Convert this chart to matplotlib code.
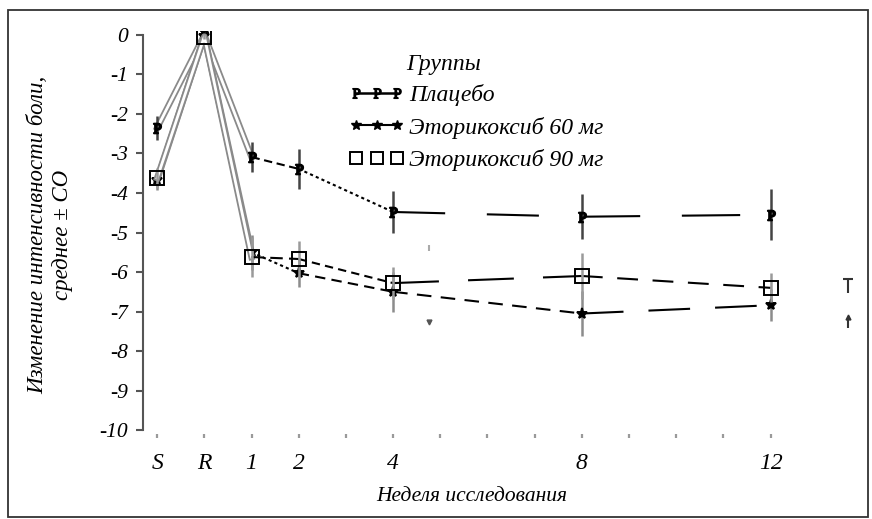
import matplotlib
matplotlib.use("Agg")
import matplotlib.pyplot as plt
from matplotlib.lines import Line2D
from matplotlib.patches import Rectangle
import matplotlib.patheffects as pe

plt.rcParams['font.family'] = ['Liberation Serif', 'DejaVu Serif']
plt.rcParams['font.style'] = 'italic'
plt.rcParams['mathtext.fontset'] = 'custom'
plt.rcParams['mathtext.it'] = 'Liberation Serif:style=italic'
plt.rcParams['mathtext.rm'] = 'Liberation Serif:style=normal'

# ---- data ----
visits = ['S', 'R', '1', '2', '4', '8', '12']
weeks = [1, 2, 4, 8, 12]
all_ticks = list(range(14))
tick_labels = {0: 'S', 1: 'R', 2: '1', 3: '2', 5: '4', 9: '8', 13: '12'}
y_ticks = list(range(0, -11, -1))

placebo = [-2.35, 0.0, -3.09, -3.39, -4.48, -4.60, -4.55]
placebo_sd = [0.30, 0.06, 0.38, 0.50, 0.52, 0.57, 0.65]
eto60 = [-3.67, -0.02, -5.50, -6.03, -6.50, -7.05, -6.84]
eto60_sd = [0.25, 0.06, 0.45, 0.35, 0.50, 0.57, 0.40]
eto90 = [-3.62, -0.04, -5.62, -5.67, -6.28, -6.10, -6.40]
eto90_sd = [0.25, 0.06, 0.50, 0.45, 0.40, 0.58, 0.37]

series_names = ['Плацебо', 'Эторикоксиб 60 мг', 'Эторикоксиб 90 мг']

# stray marks visible in the original
stray_x = [14.64, 14.64]
stray_lo = [-6.53, -7.42]
stray_hi = [-6.18, -7.14]
dot_x = [5.76, 5.76]
dot_y = [-5.39, -7.27]

# x positions from visit scale: S=0, R=1, week w -> w+1
xpos = [0, 1] + [w + 1 for w in weeks]

fig = plt.figure(figsize=(8.72, 5.19), dpi=100)
fig.patches.append(Rectangle((8 / 872, 2 / 519), 860 / 872, 507 / 519,
                             transform=fig.transFigure, fill=False,
                             edgecolor='#333333', linewidth=1.3))
ax = fig.add_axes([143 / 872, 1 - 438 / 519, (865 - 143) / 872, (438 - 31) / 519])
ax.set_xlim(-0.3, 15.0)
ax.set_ylim(-10.2, 0.1)

dbl = [pe.Stroke(linewidth=4.6, foreground='#8a8a8a'),
       pe.Stroke(linewidth=2.0, foreground='white')]

seg_styles = {
    'p': [(0, (4, 2.2)), (0, (1.5, 1.5)), (0, (25, 20)), (0, (28, 20))],
    '60': [(0, (1.5, 1.5)), (0, (5, 3)), (0, (7, 4.5)), (0, (20, 12))],
    '90': [(0, (6, 3)), (0, (4, 2.5)), (0, (22, 14)), (0, (10, 7))],
}

def draw(vals, sds, key, marker, ms, mfc, ecol, z):
    # double gray lines S-R-1
    ax.plot(xpos[:3], vals[:3], color='#8a8a8a', lw=1.6, zorder=z,
            path_effects=dbl)
    styles = seg_styles[key]
    for i in range(2, len(xpos) - 1):
        ax.plot(xpos[i:i + 2], vals[i:i + 2], color='black', lw=1.5,
                linestyle=styles[i - 2], zorder=z + 0.1)
    ax.errorbar(xpos, vals, yerr=sds, fmt='none', ecolor=ecol, elinewidth=1.8,
                capsize=0, zorder=z + 0.2)
    ax.plot(xpos, vals, linestyle='none', marker=marker, ms=ms,
            mfc=mfc, mec='black', mew=1.4, color='black', zorder=z + 0.3)

draw(placebo, placebo_sd, 'p', r'$\mathrm{P}$', 7, 'black', '#444444', 3)
draw(eto60, eto60_sd, '60', '*', 8, 'black', '#8c8c8c', 4)
draw(eto90, eto90_sd, '90', 's', 9.5, 'none', '#9a9a9a', 5)

# stray marks
ax.vlines(stray_x, stray_lo, stray_hi, color='#333333', lw=1.5)
ax.plot(stray_x[:1], stray_hi[:1], marker='_', ms=7, mew=1.5, color='#333333')
ax.plot(stray_x[1:], stray_hi[1:], marker='^', ms=3.5, color='#333333')
ax.plot(dot_x[:1], dot_y[:1], marker='|', ms=5, mew=1.5, color='#aaaaaa', ls='none')
ax.plot(dot_x[1:], dot_y[1:], marker='v', ms=3.5, color='#555555', ls='none')

# axes styling
for s in ['top', 'right', 'bottom']:
    ax.spines[s].set_visible(False)
ax.spines['left'].set_bounds(-10, 0)
ax.spines['left'].set_color('#555555')
ax.spines['left'].set_linewidth(1.5)
ax.set_yticks(y_ticks)
ax.set_yticklabels([str(v) if v == 0 else '-' + str(-v) for v in y_ticks])
ax.tick_params(axis='y', direction='out', length=5, width=1.5, color='#555555',
               labelsize=15.5, pad=6)
ax.set_xticks(all_ticks)
ax.set_xticklabels([tick_labels.get(t, '') for t in all_ticks])
ax.tick_params(axis='x', direction='in', length=3, width=1.6, color='#9a9a9a',
               labelsize=17, pad=11)
for lab in ax.get_xticklabels() + ax.get_yticklabels():
    lab.set_fontstyle('italic')

ax.set_xlabel('Неделя исследования', fontsize=15.5)
ax.xaxis.set_label_coords(0.456, -0.12)
ax.set_ylabel('Изменение интенсивности боли,\nсреднее ± СО', fontsize=16.5,
              linespacing=1.25)
ax.yaxis.set_label_coords(-0.097, 0.5)

handles = [
    Line2D([], [], color='black', lw=1.8, marker=r'$\mathrm{P}$', ms=7, mfc='black', mec='black'),
    Line2D([], [], color='black', lw=1.5, marker='*', ms=7, mfc='black', mec='black'),
    Line2D([], [], color='black', lw=0, marker='s', ms=9, mfc='none', mec='black', mew=1.4),
]
leg = ax.legend(handles, series_names, loc='upper left', bbox_to_anchor=(0.272, 0.893),
                numpoints=3, handlelength=2.35, handletextpad=0.2, labelspacing=0.45,
                frameon=False, fontsize=17, borderaxespad=0, handleheight=0.7)
ax.text(0.365, 0.918, 'Группы', transform=ax.transAxes, fontsize=17,
        ha='left', va='center')

fig.savefig('out.png', dpi=100)
